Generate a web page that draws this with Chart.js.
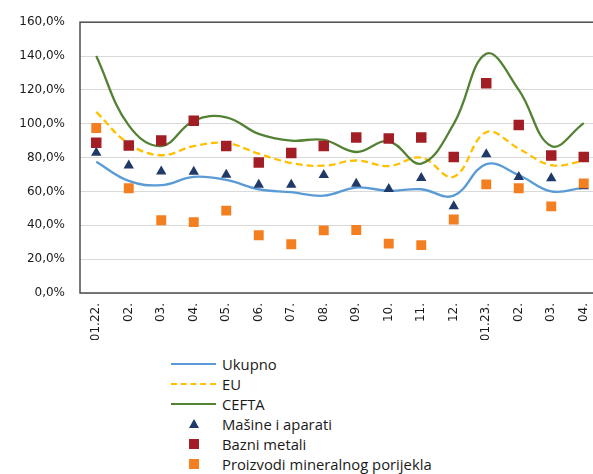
<!DOCTYPE html>
<html>
<head>
<meta charset="utf-8">
<script src="https://cdn.jsdelivr.net/npm/chart.js@4.4.1/dist/chart.umd.min.js"></script>
<style>
  body { margin: 0; overflow: hidden; background: #fff; width: 593px; height: 474px; position: relative; }
  #wrap { position: absolute; left: 0; top: 0; width: 610px; height: 340px; }
  #legend { position: absolute; left: 170px; top: 354px; font-family: "Open Sans", sans-serif; font-size: 14.8px; color: #1a1a1a; }
  .item { height: 20px; display: flex; align-items: center; }
  .sample { width: 48px; height: 20px; position: relative; margin-right: 4px; }
</style>
</head>
<body>
<div id="wrap"><canvas id="chart" width="610" height="340"></canvas></div>
<div id="legend"></div>
<script>
"use strict"

// months (Jan 2022 - Apr 2023)
const categories = ["01.22.", "02.", "03.", "04.", "05.", "06.", "07.", "08.", "09.", "10.", "11.", "12.", "01.23.", "02.", "03.", "04."];

const ukupno = [77.5, 66.2, 63.7, 68.6, 66.8, 61.3, 59.6, 57.5, 62.3, 60.4, 61.3, 57.5, 76.1, 69.7, 60.0, 62.3];
const eu = [107.0, 88.2, 81.4, 86.8, 88.6, 82.3, 76.8, 75.2, 78.3, 75.0, 80.0, 68.7, 95.0, 85.3, 75.6, 77.9];
const cefta = [140.0, 99.0, 86.8, 101.8, 103.8, 94.0, 90.0, 90.5, 83.3, 89.6, 76.5, 99.9, 141.3, 120.0, 86.8, 100.4];
const masine = [82.9, 75.3, 71.8, 71.6, 69.9, 64.0, 64.0, 69.7, 64.5, 61.5, 68.0, 51.2, 82.0, 68.5, 67.8, 63.0];
const bazni = [88.8, 87.2, 90.1, 101.8, 86.8, 77.1, 82.7, 86.8, 91.9, 91.3, 91.9, 80.4, 123.9, 99.3, 81.2, 80.4];
const proizvodi = [97.5, 61.9, 43.0, 41.9, 48.7, 34.1, 28.8, 37.0, 37.2, 29.2, 28.3, 43.4, 64.2, 61.9, 51.2, 64.8];

const yTicks = [0, 20, 40, 60, 80, 100, 120, 140, 160];

const plotBorder = {
  id: "plotBorder",
  beforeDatasetsDraw(chart) {
    const a = chart.chartArea;
    const ctx = chart.ctx;
    ctx.save();
    ctx.strokeStyle = "#4d4d4d";
    ctx.lineWidth = 1.5;
    ctx.strokeRect(a.left, a.top, a.right - a.left, a.bottom - a.top);
    ctx.restore();
  }
};

const lineDs = (label, data, color, dash, order) => ({
  label: label,
  data: data,
  borderColor: color,
  backgroundColor: color,
  borderWidth: 2.3,
  borderDash: dash,
  tension: 0.4,
  pointRadius: 0,
  fill: false,
  order: order
});

const markerDs = (label, data, color, style, radius, order) => ({
  label: label,
  data: data,
  showLine: false,
  pointStyle: style,
  pointRadius: radius,
  pointBackgroundColor: color,
  pointBorderColor: color,
  pointBorderWidth: 0,
  borderColor: color,
  backgroundColor: color,
  order: order
});

const chart = new Chart(document.getElementById("chart"), {
  type: "line",
  data: {
    labels: categories,
    datasets: [
      lineDs("Ukupno", ukupno, "#5b9bd5", [], 6),
      lineDs("EU", eu, "#ffc000", [7, 4], 5),
      lineDs("CEFTA", cefta, "#548235", [], 4),
      markerDs("Mašine i aparati", masine, "#1f3a68", "triangle", 6, 3),
      markerDs("Bazni metali", bazni, "#a31d24", "rect", 7.4, 2),
      markerDs("Proizvodi mineralnog porijekla", proizvodi, "#f47f20", "rect", 7, 1)
    ]
  },
  options: {
    responsive: false,
    animation: false,
    layout: { padding: { top: 19, right: 10, left: 0, bottom: 0 } },
    plugins: { legend: { display: false }, tooltip: { enabled: false } },
    scales: {
      x: {
        offset: true,
        grid: { display: false, drawTicks: false },
        border: { display: false },
        ticks: {
          autoSkip: false,
          minRotation: 90,
          maxRotation: 90,
          padding: 10,
          color: "#1a1a1a",
          font: { family: "DejaVu Sans", size: 12 }
        },
        afterFit: (s) => { s.height = 47; }
      },
      y: {
        min: 0,
        max: 160,
        afterBuildTicks: (s) => { s.ticks = yTicks.map(v => ({ value: v })); },
        grid: { color: "#d9d9d9", lineWidth: 1, drawTicks: false },
        border: { display: false },
        ticks: {
          padding: 15,
          color: "#1a1a1a",
          font: { family: "DejaVu Sans", size: 12 },
          callback: (v) => v.toFixed(1).replace(".", ",") + "%"
        },
        afterFit: (s) => { s.width = 80; }
      }
    }
  },
  plugins: [plotBorder]
});

// legend, one item per row, built from the datasets
const legend = document.getElementById("legend");
chart.data.datasets.forEach((ds) => {
  const item = document.createElement("div");
  item.className = "item";
  const sample = document.createElement("div");
  sample.className = "sample";
  const mark = document.createElement("div");
  mark.style.position = "absolute";
  if (ds.showLine === false) {
    if (ds.pointStyle === "triangle") {
      mark.style.left = "19px";
      mark.style.top = "5px";
      mark.style.width = "0";
      mark.style.height = "0";
      mark.style.borderLeft = "5px solid transparent";
      mark.style.borderRight = "5px solid transparent";
      mark.style.borderBottom = "9px solid " + ds.backgroundColor;
    } else {
      mark.style.left = "19px";
      mark.style.top = "5px";
      mark.style.width = "10px";
      mark.style.height = "10px";
      mark.style.background = ds.backgroundColor;
    }
  } else {
    mark.style.left = "1px";
    mark.style.top = "9px";
    mark.style.width = "45px";
    mark.style.borderTop = "2.5px " + (ds.borderDash.length ? "dashed " : "solid ") + ds.borderColor;
  }
  sample.appendChild(mark);
  const text = document.createElement("span");
  text.textContent = ds.label;
  item.appendChild(sample);
  item.appendChild(text);
  legend.appendChild(item);
});
</script>
</body>
</html>
